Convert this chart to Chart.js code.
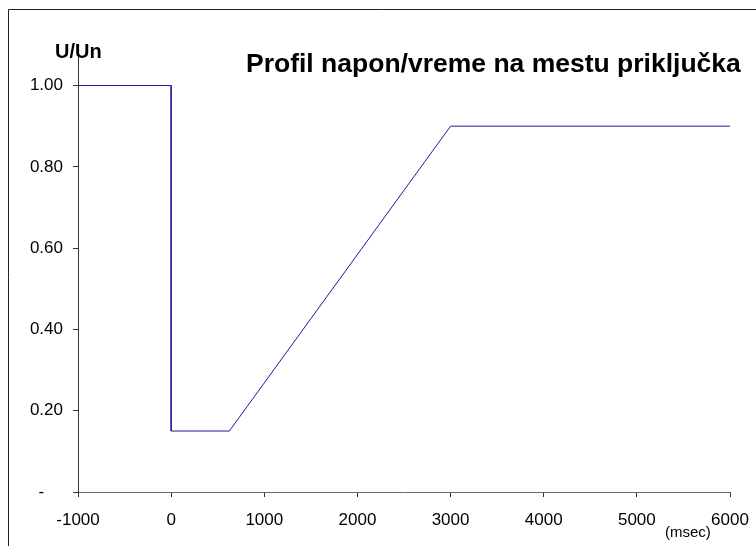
<!DOCTYPE html>
<html>
<head>
<meta charset="utf-8">
<script src="https://cdn.jsdelivr.net/npm/chart.js@4"></script>
<style>
  html, body { margin: 0; padding: 0; background: #fff; }
  #wrap { position: relative; width: 756px; height: 546px; }
</style>
</head>
<body>
<div id="wrap"><canvas id="profileChart" width="756" height="546"></canvas></div>
<script>
// voltage profile at connection point (time in msec, U/Un)
const timeMs = [-1000, 0, 0, 625, 3000, 6000];
const voltagePu = [1.0, 1.0, 0.15, 0.15, 0.9, 0.9];
const yTickValues = [0, 0.2, 0.4, 0.6, 0.8, 1.0];
const xTickValues = [-1000, 0, 1000, 2000, 3000, 4000, 5000, 6000];

const chartTitle = "Profil napon/vreme na mestu priključka";
const yAxisName = "U/Un";
const xAxisUnit = "(msec)";

const font = "'Liberation Sans', Arial, sans-serif";

// draws frame, title and axis captions
const extraText = {
  id: "extraText",
  afterDraw(chart) {
    const ctx = chart.ctx;
    ctx.save();
    ctx.strokeStyle = "#222";
    ctx.lineWidth = 1;
    ctx.beginPath();
    ctx.moveTo(8.5, 546);
    ctx.lineTo(8.5, 9.5);
    ctx.lineTo(756, 9.5);
    ctx.stroke();

    ctx.fillStyle = "#000";
    ctx.textBaseline = "alphabetic";
    ctx.textAlign = "left";
    ctx.font = "bold 26.5px " + font;
    ctx.fillText(chartTitle, 246, 72);

    ctx.font = "bold 20px " + font;
    ctx.fillText(yAxisName, 55, 58);

    ctx.font = "15px " + font;
    ctx.fillText(xAxisUnit, 665, 537);
    ctx.restore();
  }
};

new Chart("profileChart", {
  type: "line",
  data: {
    datasets: [{
      data: timeMs.map((t, i) => ({x: t, y: voltagePu[i]})),
      borderColor: "#1c1c9a",
      borderWidth: 1,
      pointRadius: 0,
      tension: 0,
      fill: false
    }]
  },
  options: {
    responsive: false,
    animation: false,
    layout: {padding: {left: 0, right: 26, top: 53, bottom: 0}},
    plugins: {legend: {display: false}, tooltip: {enabled: false}},
    scales: {
      x: {
        type: "linear",
        min: -1000,
        max: 6000,
        afterBuildTicks: s => { s.ticks = xTickValues.map(v => ({value: v})); },
        afterFit: s => { s.height = 54; s.paddingRight = 0; s.paddingLeft = 0; },
        grid: {drawOnChartArea: false, drawTicks: true, tickLength: 5, color: "#333"},
        border: {color: "#666", width: 1},
        ticks: {
          color: "#000",
          font: {family: font, size: 17},
          padding: 13,
          maxRotation: 0,
          callback: v => String(v)
        }
      },
      y: {
        min: 0,
        max: 1.08,
        afterBuildTicks: s => { s.ticks = yTickValues.map(v => ({value: v})); },
        afterFit: s => { s.width = 78; },
        grid: {drawOnChartArea: false, drawTicks: true, tickLength: 5, color: "#333"},
        border: {color: "#333", width: 1},
        ticks: {
          color: "#000",
          font: {family: font, size: 17},
          padding: 10,
          callback: v => v === 0 ? "-    " : v.toFixed(2)
        }
      }
    }
  },
  plugins: [extraText]
});
</script>
</body>
</html>
